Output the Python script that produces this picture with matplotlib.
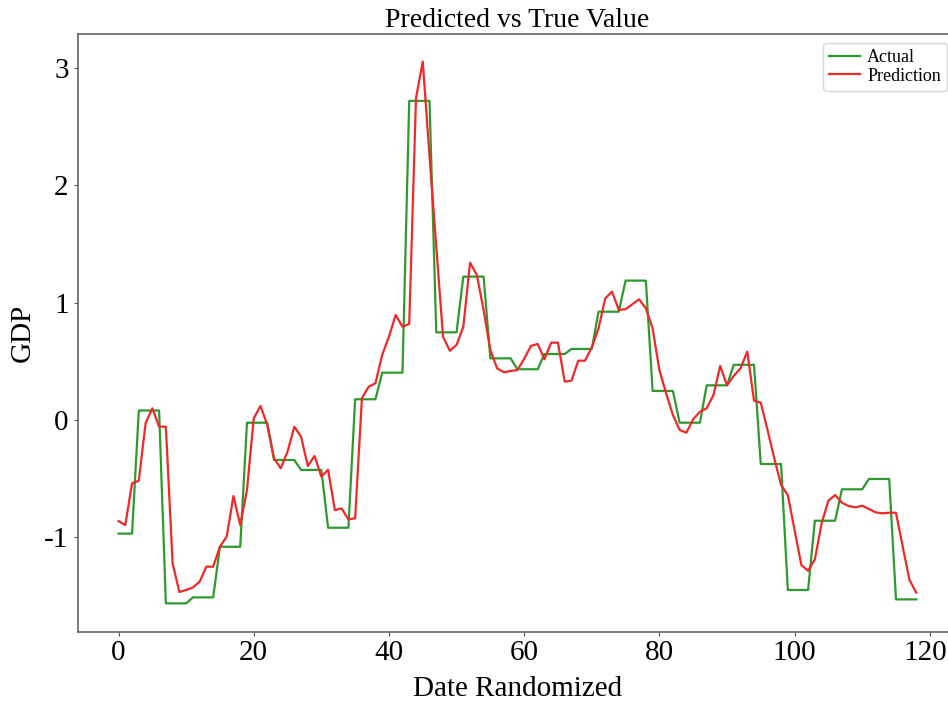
import matplotlib
matplotlib.use("Agg")
import matplotlib.pyplot as plt
import matplotlib.transforms as mtransforms
import numpy as np

plt.rcParams['font.family'] = ['Liberation Serif', 'DejaVu Serif']
plt.rcParams['axes.unicode_minus'] = False

actual = [
    -0.97, -0.97, -0.97,
    0.08, 0.08, 0.08, 0.08,
    -1.565, -1.565, -1.565, -1.565,
    -1.514, -1.514, -1.514, -1.514,
    -1.082, -1.082, -1.082, -1.082,
    -0.024, -0.024, -0.024, -0.024,
    -0.342, -0.342, -0.342, -0.342,
    -0.427, -0.427, -0.427, -0.427,
    -0.92, -0.92, -0.92, -0.92,
    0.176, 0.176, 0.176, 0.176,
    0.403, 0.403, 0.403, 0.403,
    2.721, 2.721, 2.721, 2.721,
    0.747, 0.747, 0.747, 0.747,
    1.222, 1.222, 1.222, 1.222,
    0.525, 0.525, 0.525, 0.525,
    0.432, 0.432, 0.432, 0.432,
    0.562, 0.562, 0.562, 0.562,
    0.605, 0.605, 0.605, 0.605,
    0.923, 0.923, 0.923, 0.923,
    1.188, 1.188, 1.188, 1.188,
    0.247, 0.247, 0.247, 0.247,
    -0.024, -0.024, -0.024, -0.024,
    0.295, 0.295, 0.295, 0.295,
    0.47, 0.47, 0.47, 0.47,
    -0.376, -0.376, -0.376, -0.376,
    -1.451, -1.451, -1.451, -1.451,
    -0.86, -0.86, -0.86, -0.86,
    -0.592, -0.592, -0.592, -0.592,
    -0.504, -0.504, -0.504, -0.504,
    -1.531, -1.531, -1.531, -1.531,
]

prediction = [
    -0.863, -0.897, -0.541, -0.519, -0.029, 0.099, -0.058, -0.058, -1.224, -1.468,
    -1.451, -1.429, -1.380, -1.252, -1.252, -1.082, -0.996, -0.649, -0.897, -0.598,
    0.013, 0.119, -0.043, -0.328, -0.413, -0.271, -0.058, -0.143, -0.393, -0.308,
    -0.484, -0.425, -0.769, -0.755, -0.848, -0.84, 0.184, 0.283, 0.312, 0.554,
    0.71, 0.895, 0.795, 0.818, 2.744, 3.056, 2.25, 1.48, 0.71, 0.59,
    0.639, 0.795, 1.341, 1.236, 0.938, 0.596, 0.44, 0.406, 0.417, 0.426,
    0.52, 0.631, 0.648, 0.517, 0.659, 0.659, 0.326, 0.335, 0.505, 0.505,
    0.619, 0.781, 1.037, 1.094, 0.938, 0.944, 0.986, 1.029, 0.952, 0.781,
    0.426, 0.227, 0.042, -0.086, -0.109, 0.005, 0.07, 0.099, 0.212, 0.46,
    0.295, 0.375, 0.44, 0.582, 0.164, 0.147, -0.086, -0.328, -0.555, -0.641,
    -0.939, -1.238, -1.287, -1.19, -0.883, -0.689, -0.641, -0.706, -0.735, -0.746,
    -0.732, -0.76, -0.789, -0.797, -0.792, -0.792, -1.082, -1.366, -1.474,
]

xticks = [0, 20, 40, 60, 80, 100, 120]
yticks = [-1, 0, 1, 2, 3]

x = np.arange(len(actual))

fig = plt.figure(figsize=(9.48, 7.02), dpi=100)
ax = fig.add_axes([0.0826, 0.1001, 0.926, 0.852])

ax.plot(x, actual, color='#2e9a2e', linewidth=1.6, label='Actual')
ax.plot(x, prediction, color='#f02828', linewidth=1.6, label='Prediction')

ax.set_xlim(-5.95, 123.9)
ax.set_ylim(-1.807, 3.295)
ax.set_xticks(xticks)
ax.set_yticks(yticks)

ax.tick_params(labelsize=21, colors='#555555', labelcolor='black', length=3)
ax.tick_params(axis='x', pad=3)
ax.tick_params(axis='y', pad=4)
for s in ax.spines.values():
    s.set_color('#666666')
    s.set_linewidth(1.2)

# keep the last x tick label inside the canvas
last = ax.get_xticklabels()[-1]
last.set_transform(last.get_transform() +
                   mtransforms.ScaledTranslation(-5 / 100, 0, fig.dpi_scale_trans))

ax.set_title('Predicted vs True Value', fontsize=20, pad=5)
ax.set_xlabel('Date Randomized', fontsize=21, labelpad=7)
ax.set_ylabel('GDP', fontsize=21, labelpad=6)
ax.legend(loc='upper right', fontsize=13, handlelength=1.7,
          borderaxespad=0.5, labelspacing=0.1, borderpad=0.35, handletextpad=0.4)

fig.savefig('out.png', dpi=100)
